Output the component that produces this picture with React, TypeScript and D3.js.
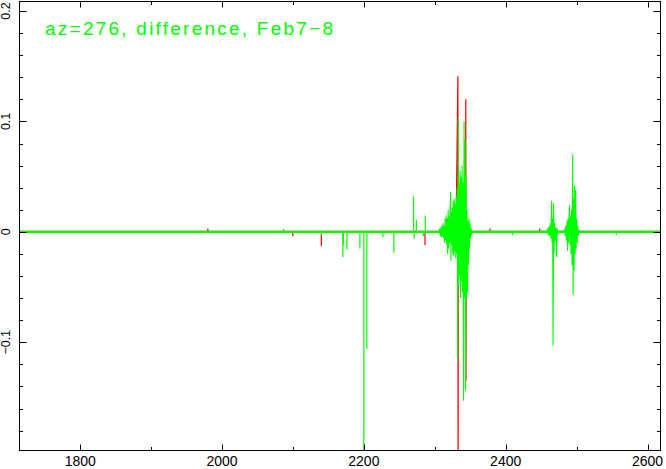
import React from "react";
import * as d3 from "d3";

// ---- data ----
const xDomain = [1714.4, 2618.3];
const yDomain = [-0.198, 0.2086];
const xMajorTicks = [1800, 2000, 2200, 2400, 2600];
const xMinorTicks = [1800, 1900, 2000, 2100, 2200, 2300, 2400, 2500, 2600];
const yMajorTicks = [-0.1, 0, 0.1, 0.2];
const yTickLabels = ["\u22120.1", "0", "0.1", "0.2"];
const yMinorTicks = [-0.18, -0.16, -0.14, -0.12, -0.1, -0.08, -0.06, -0.04, -0.02, 0, 0.02, 0.04, 0.06, 0.08, 0.1, 0.12, 0.14, 0.16, 0.18, 0.2];
const title = "az=276, difference, Feb7\u22128";

// isolated spikes [wavenumber, value]
const greenSpikes: [number, number][] = [
  [2086.7, 0.003], [2140.5, -0.003], [2170.4, -0.0227], [2171.2, -0.012], [2176, -0.016],
  [2194.4, -0.015], [2200, -0.25], [2204.2, -0.106], [2226.8, -0.005], [2242.3, -0.019],
  [2270.1, 0.032], [2271, -0.006], [2274, 0.011], [2284, -0.004], [2286.6, 0.0145],
  [2410, -0.003], [2556, -0.003],
];
const redSpikes: [number, number][] = [
  [1980, 0.003], [2099.9, -0.004], [2140, -0.013], [2286.2, -0.012], [2317.6, 0.012],
  [2329.3, 0.024], [2378, 0.003], [2448, 0.003], [2500, 0.004],
];
// dense oscillating segments [wavenumber, value]
const greenCluster1: [number, number][] = [
  [2306, 0], [2307, 0.003], [2307.8, -0.004], [2308.6, 0.004], [2309.4, -0.005], [2310.2, 0.006],
  [2311, -0.004], [2311.8, 0.008], [2312.5, -0.006], [2313.2, 0.005], [2314, -0.01], [2314.7, 0.012],
  [2315.4, -0.008], [2316.1, 0.015], [2316.8, -0.012], [2317.5, 0.01], [2318.2, -0.02], [2318.9, 0.02],
  [2319.6, -0.015], [2320.3, 0.014], [2321, -0.01], [2321.7, 0.022], [2322.3, 0.036], [2322.8, -0.026],
  [2323.4, 0.018], [2324, -0.012], [2324.7, 0.022], [2325.4, -0.02], [2326.1, 0.028], [2326.8, -0.022],
  [2327.5, 0.03], [2328.2, -0.018], [2328.9, 0.025], [2329.6, -0.024], [2330.3, 0.032], [2331, -0.02],
  [2331.7, 0.04], [2332.3, -0.116], [2333.1, 0.103], [2333.7, -0.05], [2334.3, 0.045], [2335, -0.04],
  [2335.7, 0.055], [2336.4, -0.06], [2337.1, 0.05], [2337.8, -0.045], [2338.5, 0.06], [2339.2, -0.055],
  [2339.9, 0.045], [2340.6, -0.153], [2341.3, 0.1], [2342, -0.06], [2342.7, 0.083], [2343.4, -0.144],
  [2344.1, 0.05], [2344.8, -0.06], [2345.5, 0.02], [2346.2, -0.055], [2346.9, 0.01], [2347.6, -0.03],
  [2348.3, 0.012], [2349, -0.015], [2349.7, 0.008], [2350.4, -0.006], [2351.1, 0.004], [2352, -0.003],
  [2353, 0],
];
const greenCluster2: [number, number][] = [
  [2458, 0], [2459, 0.003], [2460, -0.003], [2461, 0.005], [2462, -0.004], [2463, 0.008],
  [2464, -0.006], [2464.7, 0.028], [2465.4, -0.01], [2466.1, 0.012], [2466.8, -0.103], [2467.5, 0.026],
  [2468.2, -0.02], [2469, 0.008], [2470, -0.008], [2471, 0.004], [2471.8, -0.023], [2472.6, 0.003],
  [2473.5, -0.002], [2475, 0], [2482, 0], [2483, 0.003], [2484, -0.004], [2485, 0.006],
  [2485.8, -0.008], [2486.5, 0.01], [2487.3, -0.017], [2488, 0.012], [2488.7, -0.01], [2489.4, 0.016],
  [2490.1, 0.024], [2490.8, -0.012], [2491.5, 0.014], [2492.2, -0.02], [2492.9, 0.02], [2493.6, -0.03],
  [2494.4, 0.07], [2495.1, -0.057], [2495.8, 0.03], [2496.5, -0.035], [2497.2, 0.042], [2497.9, -0.02],
  [2498.6, 0.038], [2499.3, -0.015], [2500, 0.012], [2500.7, -0.01], [2501.4, 0.006], [2502.2, -0.004],
  [2503, 0.002], [2504, 0],
];
const redCluster: [number, number][] = [
  [2330, 0], [2332.6, 0.141], [2332.9, -0.25], [2333.2, 0], [2343.4, 0], [2343.7, 0.12],
  [2344.0, -0.135], [2344.3, 0],
];

const W = 666;
const H = 469;
const L = 19.5, R = 660.5, T = 1.5, B = 450.5;
const GREEN = "#00ff00";
const RED = "#ff0000";

export default function App() {
  const x = d3.scaleLinear().domain(xDomain).range([L, R]);
  const y = d3.scaleLinear().domain(yDomain).range([B, T]);
  const line = d3.line<[number, number]>().x((d) => x(d[0])).y((d) => y(d[1]));
  const y0 = y(0);

  return (
    <svg width={W} height={H} style={{ position: "absolute", left: 0, top: 0, background: "#fff" }}
      fontFamily="'Liberation Sans', Arial, sans-serif">
      <defs>
        <clipPath id="plot">
          <rect x={L} y={T} width={R - L} height={B - T} />
        </clipPath>
      </defs>
      <g clipPath="url(#plot)">
        {/* red series */}
        <line x1={L} x2={R} y1={y0} y2={y0} stroke={RED} strokeWidth={2} />
        {redSpikes.map(([wx, v], i) => (
          <line key={"r" + i} x1={x(wx)} x2={x(wx)} y1={y0} y2={y(v)} stroke={RED} strokeWidth={1.2} />
        ))}
        <path d={line(redCluster) || ""} fill="none" stroke={RED} strokeWidth={1.2} />
        {/* green series */}
        <line x1={L} x2={R} y1={y0} y2={y0} stroke={GREEN} strokeWidth={2.2} />
        {greenSpikes.map(([wx, v], i) => (
          <line key={"g" + i} x1={x(wx)} x2={x(wx)} y1={y0} y2={y(v)} stroke={GREEN} strokeWidth={1.2} />
        ))}
        <path d={line(greenCluster1) || ""} fill="none" stroke={GREEN} strokeWidth={1.1} />
        <path d={line(greenCluster2) || ""} fill="none" stroke={GREEN} strokeWidth={1.1} />
      </g>

      {/* frame */}
      <rect x={L} y={T} width={R - L} height={B - T} fill="none" stroke="#000" strokeWidth={1} />

      {/* x ticks */}
      {xMinorTicks.map((t) => {
        const len = xMajorTicks.includes(t) ? 6 : 3.5;
        const px = Math.round(x(t)) + 0.5;
        return (
          <g key={"xt" + t}>
            <line x1={px} x2={px} y1={B} y2={B - len} stroke="#000" />
            <line x1={px} x2={px} y1={T} y2={T + len} stroke="#000" />
          </g>
        );
      })}
      {xMajorTicks.map((t) => (
        <text key={"xl" + t} x={x(t)} y={466} fontSize={14} textAnchor="middle" fill="#000">
          {t}
        </text>
      ))}

      {/* y ticks */}
      {yMinorTicks.map((t) => {
        const major = yMajorTicks.some((m) => Math.abs(m - t) < 1e-9);
        const len = major ? 7 : 3.5;
        const py = Math.round(y(t)) + 0.5;
        return (
          <g key={"yt" + t}>
            <line x1={L} x2={L + len} y1={py} y2={py} stroke="#000" />
            <line x1={R} x2={R - len} y1={py} y2={py} stroke="#000" />
          </g>
        );
      })}
      {yMajorTicks.map((t, i) => (
        <text key={"yl" + t} transform={`translate(9.5,${y(t)}) rotate(-90)`} fontSize={12.5}
          textAnchor="middle" fill="#000">
          {yTickLabels[i]}
        </text>
      ))}

      {/* title */}
      <text x={45} y={34.5} fontSize={19} fill={GREEN} textLength={288} lengthAdjust="spacing">
        {title}
      </text>
    </svg>
  );
}
